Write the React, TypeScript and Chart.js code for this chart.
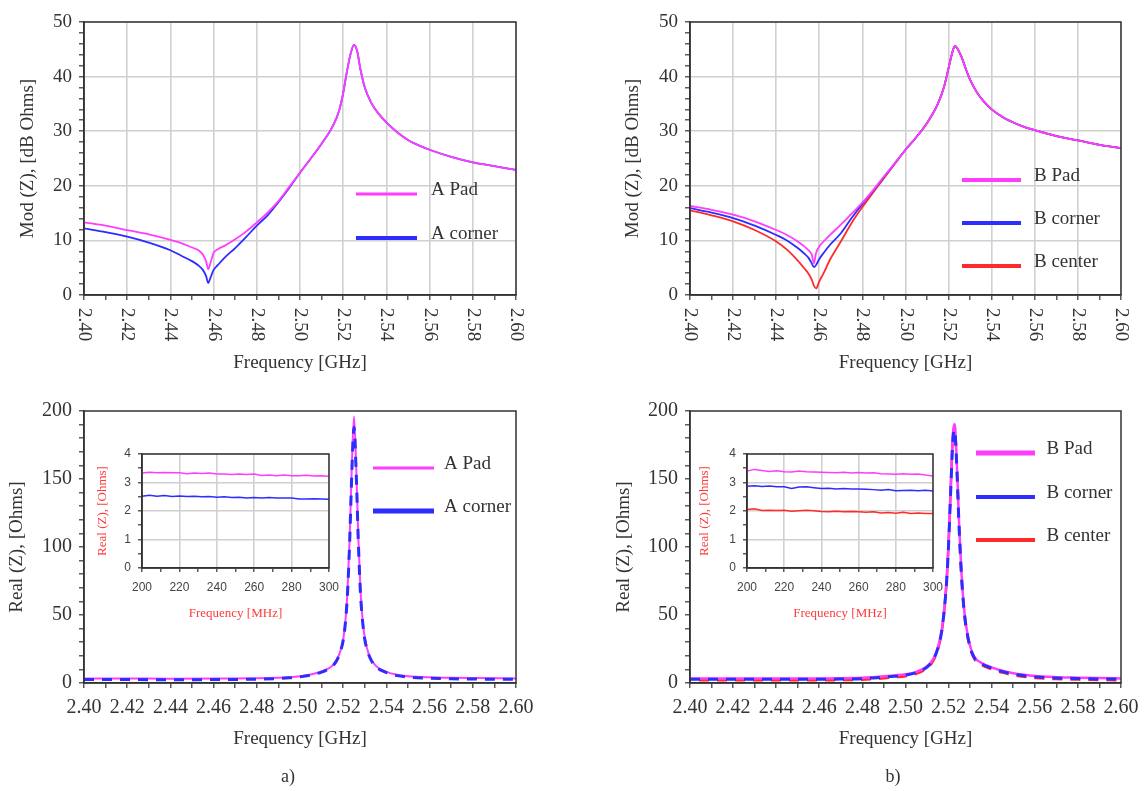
import React, { useEffect, useRef } from 'react';
import { Chart, registerables } from 'chart.js';

Chart.register(...registerables);

// ---------------- data ----------------
// a) top: Mod(Z) [dB Ohms] vs frequency [GHz]
const freqModA = [2.400, 2.410, 2.420, 2.430, 2.440, 2.445, 2.450, 2.453, 2.455, 2.4565, 2.4575, 2.4585, 2.460, 2.462, 2.465, 2.470, 2.475, 2.480, 2.485, 2.490, 2.495, 2.500, 2.505, 2.510, 2.515, 2.518, 2.520, 2.521, 2.522, 2.5235, 2.525, 2.5265, 2.528, 2.530, 2.533, 2.536, 2.540, 2.545, 2.550, 2.555, 2.560, 2.570, 2.580, 2.590, 2.600];
const modAPad = [13.3, 12.7, 11.9, 11.1, 10.1, 9.5, 8.7, 8.2, 7.4, 6.2, 4.75, 5.8, 7.7, 8.4, 9.0, 10.2, 11.6, 13.3, 15.1, 17.2, 19.8, 22.4, 25.0, 27.7, 30.8, 33.6, 37.0, 39.3, 41.5, 44.3, 45.8, 44.6, 41.3, 38.0, 35.2, 33.4, 31.6, 29.8, 28.4, 27.4, 26.6, 25.3, 24.3, 23.6, 22.9];
const modACorner = [12.2, 11.5, 10.7, 9.6, 8.2, 7.2, 6.2, 5.4, 4.6, 3.5, 2.2, 3.1, 4.6, 5.5, 6.8, 8.6, 10.6, 12.7, 14.6, 17.0, 19.6, 22.4, 25.0, 27.7, 30.8, 33.6, 37.0, 39.3, 41.5, 44.3, 45.8, 44.6, 41.3, 38.0, 35.2, 33.4, 31.6, 29.8, 28.4, 27.4, 26.6, 25.3, 24.3, 23.6, 22.9];

// b) top
const freqModB = [2.400, 2.410, 2.420, 2.430, 2.440, 2.445, 2.450, 2.453, 2.455, 2.4565, 2.4575, 2.4585, 2.460, 2.462, 2.465, 2.470, 2.475, 2.480, 2.485, 2.490, 2.495, 2.500, 2.505, 2.510, 2.515, 2.518, 2.520, 2.522, 2.523, 2.524, 2.526, 2.528, 2.530, 2.533, 2.536, 2.540, 2.545, 2.550, 2.555, 2.560, 2.570, 2.580, 2.590, 2.600];
const modBPad = [16.3, 15.6, 14.7, 13.5, 11.9, 11.0, 9.8, 8.9, 8.2, 7.4, 5.8, 7.7, 8.9, 9.8, 11.0, 12.9, 14.9, 16.9, 19.2, 21.7, 24.1, 26.6, 28.9, 31.5, 35.0, 38.3, 41.6, 44.8, 45.6, 45.2, 43.6, 41.4, 39.4, 37.2, 35.6, 34.0, 32.6, 31.6, 30.8, 30.2, 29.1, 28.3, 27.5, 26.9];
const modBCorner = [15.9, 15.1, 14.1, 12.7, 11.0, 10.0, 8.6, 7.6, 6.8, 5.8, 5.1, 5.5, 6.6, 7.7, 9.2, 11.3, 14.1, 16.7, 19.1, 21.6, 24.1, 26.6, 28.9, 31.5, 35.0, 38.3, 41.6, 44.8, 45.6, 45.2, 43.6, 41.4, 39.4, 37.2, 35.6, 34.0, 32.6, 31.6, 30.8, 30.2, 29.1, 28.3, 27.5, 26.9];
const modBCenter = [15.5, 14.6, 13.5, 11.9, 9.8, 8.3, 6.3, 4.9, 3.9, 2.8, 1.7, 1.2, 2.5, 4.0, 6.5, 9.8, 13.2, 16.1, 18.8, 21.4, 24.0, 26.6, 28.9, 31.5, 35.0, 38.3, 41.6, 44.8, 45.6, 45.2, 43.6, 41.4, 39.4, 37.2, 35.6, 34.0, 32.6, 31.6, 30.8, 30.2, 29.1, 28.3, 27.5, 26.9];

// a) bottom: Real(Z) [Ohms]
const freqReA = [2.400, 2.420, 2.440, 2.460, 2.480, 2.490, 2.495, 2.500, 2.505, 2.510, 2.513, 2.515, 2.517, 2.519, 2.520, 2.521, 2.522, 2.523, 2.524, 2.525, 2.526, 2.527, 2.528, 2.529, 2.530, 2.532, 2.535, 2.540, 2.545, 2.550, 2.560, 2.570, 2.580, 2.600];
const reAPad = [3.3, 3.3, 3.2, 3.3, 3.5, 3.9, 4.3, 5.0, 6.3, 8.5, 10.6, 12.8, 17.0, 25.0, 32.0, 45.0, 68.0, 107.0, 160.0, 196.0, 160.0, 107.0, 68.0, 46.0, 33.0, 20.5, 12.8, 8.2, 6.0, 5.0, 4.2, 3.8, 3.6, 3.4];
const reACorner = [2.5, 2.5, 2.4, 2.5, 2.8, 3.3, 3.8, 4.5, 5.8, 8.0, 10.1, 12.3, 16.5, 24.5, 31.5, 44.0, 66.0, 104.0, 155.0, 188.0, 155.0, 104.0, 66.0, 45.0, 32.0, 20.0, 12.3, 7.7, 5.4, 4.4, 3.5, 3.1, 2.9, 2.7];

// b) bottom
const freqReB = [2.400, 2.420, 2.440, 2.460, 2.470, 2.480, 2.485, 2.490, 2.495, 2.500, 2.505, 2.510, 2.513, 2.515, 2.517, 2.519, 2.520, 2.521, 2.522, 2.5228, 2.5235, 2.524, 2.525, 2.526, 2.527, 2.528, 2.530, 2.532, 2.535, 2.540, 2.545, 2.550, 2.555, 2.560, 2.570, 2.580, 2.590, 2.600];
const reBPad = [3.4, 3.4, 3.4, 3.4, 3.5, 3.8, 4.3, 4.9, 5.6, 6.4, 8.2, 12.3, 18.0, 26.0, 41.0, 74.0, 104.0, 145.0, 183.0, 190.5, 174.0, 154.0, 112.0, 80.0, 58.0, 43.5, 27.0, 19.0, 15.0, 11.5, 9.0, 7.2, 6.0, 5.1, 4.3, 3.9, 3.6, 3.4];
const reBCorner = [2.8, 2.8, 2.8, 2.8, 2.9, 3.2, 3.7, 4.3, 5.0, 5.8, 7.6, 11.7, 17.4, 25.4, 40.2, 72.5, 102.0, 142.0, 179.0, 186.0, 170.0, 150.5, 109.5, 78.0, 56.5, 42.5, 26.4, 18.4, 14.4, 10.9, 8.4, 6.6, 5.4, 4.5, 3.7, 3.3, 3.0, 2.8];
const reBCenter = [2.0, 2.0, 2.0, 2.0, 2.1, 2.4, 2.9, 3.5, 4.2, 5.0, 6.8, 10.9, 16.6, 24.6, 39.5, 72.5, 102.5, 143.0, 181.0, 188.5, 172.0, 152.0, 110.5, 78.5, 56.5, 42.0, 25.6, 17.6, 13.6, 10.1, 7.6, 5.8, 4.6, 3.7, 2.9, 2.5, 2.2, 2.0];

// insets: Real(Z) [Ohms] vs frequency [MHz]
const insetFreq = [200, 204, 208, 212, 216, 220, 224, 228, 232, 236, 240, 244, 248, 252, 256, 260, 264, 268, 272, 276, 280, 284, 288, 292, 296, 300];
const insetAPad = [3.33, 3.36, 3.34, 3.35, 3.34, 3.34, 3.31, 3.33, 3.32, 3.33, 3.30, 3.30, 3.28, 3.30, 3.28, 3.30, 3.25, 3.26, 3.24, 3.26, 3.24, 3.24, 3.25, 3.23, 3.24, 3.22];
const insetACorner = [2.52, 2.55, 2.52, 2.54, 2.51, 2.53, 2.51, 2.52, 2.50, 2.51, 2.48, 2.50, 2.47, 2.48, 2.46, 2.47, 2.46, 2.47, 2.46, 2.46, 2.46, 2.42, 2.42, 2.43, 2.42, 2.41];
const insetBPad = [3.40, 3.46, 3.42, 3.39, 3.41, 3.38, 3.37, 3.40, 3.38, 3.37, 3.36, 3.35, 3.34, 3.36, 3.33, 3.35, 3.33, 3.34, 3.31, 3.30, 3.29, 3.31, 3.29, 3.30, 3.26, 3.23];
const insetBCorner = [2.87, 2.89, 2.86, 2.88, 2.85, 2.85, 2.79, 2.84, 2.85, 2.82, 2.79, 2.80, 2.77, 2.79, 2.77, 2.77, 2.76, 2.75, 2.73, 2.75, 2.71, 2.72, 2.73, 2.71, 2.73, 2.70];
const insetBCenter = [2.05, 2.08, 2.02, 2.03, 2.02, 2.03, 1.99, 2.01, 2.03, 2.01, 1.98, 1.97, 1.99, 1.97, 1.98, 1.97, 1.96, 1.97, 1.93, 1.95, 1.92, 1.96, 1.91, 1.93, 1.91, 1.91];

const labelsA = ['A Pad', 'A corner'];
const labelsB = ['B Pad', 'B corner', 'B center'];
const titleMod = 'Mod (Z), [dB Ohms]';
const titleReal = 'Real (Z), [Ohms]';
const titleGHz = 'Frequency [GHz]';
const titleMHz = 'Frequency [MHz]';

// ---------------- styles ----------------
const MAGENTA = '#ff3dff';
const BLUE = '#2d2dff';
const RED = '#ff2b2b';
const AXIS = '#333333';
const GRID = '#d0d0d0';
const TEXT = '#333333';
const INSET_TITLE = '#ff3b3b';
const SERIF = "'Liberation Serif', 'Times New Roman', serif";
const SANS = "'Liberation Sans', Arial, sans-serif";

const near = (v: number, m: number) => {
  const r = v / m;
  return Math.abs(r - Math.round(r)) < 1e-6;
};

const framePlugin = {
  id: 'frame',
  afterDraw(chart: any) {
    const { ctx, chartArea: a } = chart;
    ctx.save();
    ctx.strokeStyle = AXIS;
    ctx.lineWidth = 1.5;
    ctx.strokeRect(a.left, a.top, a.right - a.left, a.bottom - a.top);
    ctx.restore();
  },
};

const rotXPlugin = {
  id: 'rotX',
  afterDraw(chart: any, _a: any, opts: any) {
    if (!opts || !opts.enabled) return;
    const s = chart.scales.x;
    const ctx = chart.ctx;
    ctx.save();
    ctx.fillStyle = TEXT;
    ctx.font = `${opts.size}px ${SERIF}`;
    ctx.textAlign = 'left';
    ctx.textBaseline = 'middle';
    for (const t of s.ticks) {
      if (!near(t.value, opts.major)) continue;
      const px = s.getPixelForValue(t.value);
      ctx.save();
      ctx.translate(px, chart.chartArea.bottom + opts.offset);
      ctx.rotate(Math.PI / 2);
      ctx.fillText(Number(t.value).toFixed(2), 0, 0);
      ctx.restore();
    }
    ctx.restore();
  },
};

const legendPlugin = {
  id: 'lineLegend',
  afterDraw(chart: any, _a: any, opts: any) {
    if (!opts || !opts.items) return;
    const ctx = chart.ctx;
    chart.data.datasets.forEach((ds: any, i: number) => {
      const it = opts.items[i];
      if (!it) return;
      ctx.save();
      ctx.strokeStyle = ds.borderColor;
      ctx.lineWidth = it.w;
      ctx.beginPath();
      ctx.moveTo(opts.x0, it.y);
      ctx.lineTo(opts.x1, it.y);
      ctx.stroke();
      ctx.fillStyle = TEXT;
      ctx.font = `${opts.size}px ${SERIF}`;
      ctx.textAlign = 'left';
      ctx.textBaseline = 'alphabetic';
      ctx.fillText(ds.label, opts.tx, it.y + 1);
      ctx.restore();
    });
  },
};

type Ax = { min: number; max: number; step: number; major: number; decimals: number; grid: boolean; title: string };
type Opt = {
  pad: { left: number; top: number; right: number; bottom: number };
  yWidth: number;
  xHeight: number;
  x: Ax;
  y: Ax;
  tickFont: string;
  tickSize: number;
  tickColor: string;
  tickLen: number;
  xTickPad: number;
  yTickPad: number;
  titleSize: number;
  titleColor: string;
  xTitlePad: number;
  yTitlePad: number;
  rotX?: { offset: number; size: number };
  legend?: any;
};

function axisCfg(ax: Ax, isX: boolean, o: Opt) {
  return {
    type: 'linear',
    position: isX ? 'bottom' : 'left',
    min: ax.min,
    max: ax.max,
    afterFit: (s: any) => {
      if (isX) s.height = o.xHeight;
      else s.width = o.yWidth;
      s.paddingLeft = 0;
      s.paddingRight = 0;
      s.paddingTop = 0;
      s.paddingBottom = 0;
    },
    ticks: {
      stepSize: ax.step,
      autoSkip: false,
      maxRotation: 0,
      minRotation: 0,
      display: isX ? !o.rotX : true,
      padding: isX ? o.xTickPad : o.yTickPad,
      color: o.tickColor,
      font: { family: o.tickFont, size: o.tickSize },
      callback: (v: any) => (near(Number(v), ax.major) ? Number(v).toFixed(ax.decimals) : ''),
    },
    grid: {
      drawOnChartArea: ax.grid,
      color: (c: any) => (c.tick && near(c.tick.value, ax.major) ? GRID : 'rgba(0,0,0,0)'),
      lineWidth: 1.6,
      tickColor: AXIS,
      tickLength: o.tickLen,
      tickWidth: 1.2,
    },
    border: { display: true, color: AXIS, width: 1.5 },
    title: {
      display: true,
      text: ax.title,
      color: o.titleColor,
      font: { family: SERIF, size: o.titleSize },
      padding: isX ? { top: 0, bottom: o.xTitlePad } : { top: o.yTitlePad, bottom: 0 },
    },
  };
}

function series(label: string, xs: number[], ys: number[], color: string, width: number, extra: any = {}) {
  return {
    label,
    data: xs.map((x, i) => ({ x, y: ys[i] })),
    borderColor: color,
    backgroundColor: color,
    borderWidth: width,
    pointRadius: 0,
    pointHoverRadius: 0,
    cubicInterpolationMode: 'monotone',
    fill: false,
    ...extra,
  };
}

function makeConfig(datasets: any[], o: Opt): any {
  return {
    type: 'line',
    data: { datasets },
    options: {
      responsive: false,
      animation: false,
      events: [],
      layout: { padding: o.pad, autoPadding: false },
      plugins: {
        legend: { display: false },
        tooltip: { enabled: false },
        rotX: o.rotX ? { enabled: true, offset: o.rotX.offset, size: o.rotX.size, major: o.x.major } : { enabled: false },
        lineLegend: o.legend || {},
      },
      scales: { x: axisCfg(o.x, true, o), y: axisCfg(o.y, false, o) },
    },
    plugins: [framePlugin, rotXPlugin, legendPlugin],
  };
}

const xGHz = (grid: boolean): Ax => ({ min: 2.4, max: 2.6, step: 0.01, major: 0.02, decimals: 2, grid, title: titleGHz });
const xMHz: Ax = { min: 200, max: 300, step: 10, major: 20, decimals: 0, grid: true, title: titleMHz };
const yMod: Ax = { min: 0, max: 50, step: 2, major: 10, decimals: 0, grid: true, title: titleMod };
const yReal: Ax = { min: 0, max: 200, step: 10, major: 50, decimals: 0, grid: false, title: titleReal };
const yInset: Ax = { min: 0, max: 4, step: 0.5, major: 1, decimals: 0, grid: true, title: titleReal };

const mainBase = {
  tickFont: SERIF,
  tickColor: TEXT,
  tickLen: 5,
  yTickPad: 7,
  titleSize: 19,
  titleColor: TEXT,
};

const insetBase = {
  tickFont: SANS,
  tickSize: 12,
  tickColor: '#444444',
  tickLen: 4,
  xTickPad: 8.8,
  yTickPad: 7,
  titleSize: 13,
  titleColor: INSET_TITLE,
  xTitlePad: 3.2,
};

const straight = { cubicInterpolationMode: 'default', tension: 0 };

const panels: { left: number; top: number; width: number; height: number; build: () => any }[] = [
  {
    left: 0, top: 0, width: 560, height: 385,
    build: () =>
      makeConfig(
        [
          series(labelsA[0], freqModA, modAPad, MAGENTA, 1.8, { order: 0 }),
          series(labelsA[1], freqModA, modACorner, BLUE, 1.8, { order: 1 }),
        ],
        {
          ...mainBase,
          pad: { left: 0, top: 22, right: 44, bottom: 0 },
          yWidth: 84, xHeight: 90,
          x: xGHz(true), y: yMod,
          tickSize: 19, xTickPad: 0,
          xTitlePad: 10.6, yTitlePad: 16.6,
          rotX: { offset: 13, size: 19 },
          legend: { x0: 356, x1: 417, tx: 431, size: 19, items: [{ y: 194, w: 3 }, { y: 238, w: 4 }] },
        }
      ),
  },
  {
    left: 560, top: 0, width: 585, height: 385,
    build: () =>
      makeConfig(
        [
          series(labelsB[0], freqModB, modBPad, MAGENTA, 1.8, { order: 0 }),
          series(labelsB[1], freqModB, modBCorner, BLUE, 1.8, { order: 1 }),
          series(labelsB[2], freqModB, modBCenter, RED, 1.8, { order: 2 }),
        ],
        {
          ...mainBase,
          pad: { left: 0, top: 22, right: 24, bottom: 0 },
          yWidth: 130, xHeight: 90,
          x: xGHz(true), y: yMod,
          tickSize: 19, xTickPad: 0,
          xTitlePad: 10.6, yTitlePad: 61.6,
          rotX: { offset: 13, size: 19 },
          legend: { x0: 402, x1: 461, tx: 474, size: 19, items: [{ y: 180, w: 4 }, { y: 223, w: 4 }, { y: 266, w: 4 }] },
        }
      ),
  },
  {
    left: 0, top: 385, width: 560, height: 406,
    build: () =>
      makeConfig(
        [
          series(labelsA[0], freqReA, reAPad, MAGENTA, 2, { order: 1 }),
          series(labelsA[1], freqReA, reACorner, BLUE, 3, { order: 0, borderDash: [10, 8] }),
        ],
        {
          ...mainBase,
          pad: { left: 0, top: 26, right: 44, bottom: 0 },
          yWidth: 84, xHeight: 108,
          x: xGHz(false), y: yReal,
          tickSize: 20, xTickPad: 7.6,
          xTitlePad: 40.6, yTitlePad: 5.6,
          legend: { x0: 373, x1: 434, tx: 444, size: 19, items: [{ y: 83, w: 3 }, { y: 126, w: 5 }] },
        }
      ),
  },
  {
    left: 560, top: 385, width: 585, height: 406,
    build: () =>
      makeConfig(
        [
          series(labelsB[0], freqReB, reBPad, MAGENTA, 2.5, { order: 1 }),
          series(labelsB[1], freqReB, reBCorner, BLUE, 3, { order: 0, borderDash: [10, 8] }),
          series(labelsB[2], freqReB, reBCenter, RED, 2.5, { order: 2, borderDash: [10, 8], borderDashOffset: 9 }),
        ],
        {
          ...mainBase,
          pad: { left: 0, top: 26, right: 24, bottom: 0 },
          yWidth: 130, xHeight: 108,
          x: xGHz(false), y: yReal,
          tickSize: 20, xTickPad: 7.6,
          xTitlePad: 40.6, yTitlePad: 52.6,
          legend: { x0: 416, x1: 475, tx: 486.5, size: 19, items: [{ y: 68, w: 5 }, { y: 112, w: 4 }, { y: 155, w: 4 }] },
        }
      ),
  },
  {
    left: 90, top: 440, width: 255, height: 185,
    build: () =>
      makeConfig(
        [
          series(labelsA[0], insetFreq, insetAPad, MAGENTA, 1.5, { order: 0, ...straight }),
          series(labelsA[1], insetFreq, insetACorner, BLUE, 1.5, { order: 1, ...straight }),
        ],
        {
          ...insetBase,
          pad: { left: 0, top: 14, right: 16, bottom: 0 },
          yWidth: 52, xHeight: 57,
          x: xMHz, y: yInset,
          yTitlePad: 5.2,
        }
      ),
  },
  {
    left: 695, top: 440, width: 255, height: 185,
    build: () =>
      makeConfig(
        [
          series(labelsB[0], insetFreq, insetBPad, MAGENTA, 1.5, { order: 0, ...straight }),
          series(labelsB[1], insetFreq, insetBCorner, BLUE, 1.5, { order: 1, ...straight }),
          series(labelsB[2], insetFreq, insetBCenter, RED, 1.5, { order: 2, ...straight }),
        ],
        {
          ...insetBase,
          pad: { left: 0, top: 14, right: 17, bottom: 0 },
          yWidth: 52, xHeight: 57,
          x: xMHz, y: yInset,
          yTitlePad: 2.2,
        }
      ),
  },
];

function Panel({ left, top, width, height, build }: { left: number; top: number; width: number; height: number; build: () => any }) {
  const ref = useRef<HTMLCanvasElement>(null);
  useEffect(() => {
    const chart = new Chart(ref.current as HTMLCanvasElement, build());
    return () => chart.destroy();
  }, []);
  return (
    <canvas
      ref={ref}
      width={width}
      height={height}
      style={{ position: 'absolute', left, top, width, height }}
    />
  );
}

const captionStyle: React.CSSProperties = {
  position: 'absolute',
  width: 40,
  textAlign: 'center',
  fontFamily: SERIF,
  fontSize: 18,
  lineHeight: '22px',
  color: TEXT,
};

export default function App() {
  return (
    <div style={{ position: 'absolute', left: 0, top: 0, width: 1145, height: 791, background: '#ffffff', overflow: 'hidden' }}>
      {panels.map((p, i) => (
        <Panel key={i} {...p} />
      ))}
      <div style={{ ...captionStyle, left: 268, top: 765 }}>a)</div>
      <div style={{ ...captionStyle, left: 873, top: 765 }}>b)</div>
    </div>
  );
}
